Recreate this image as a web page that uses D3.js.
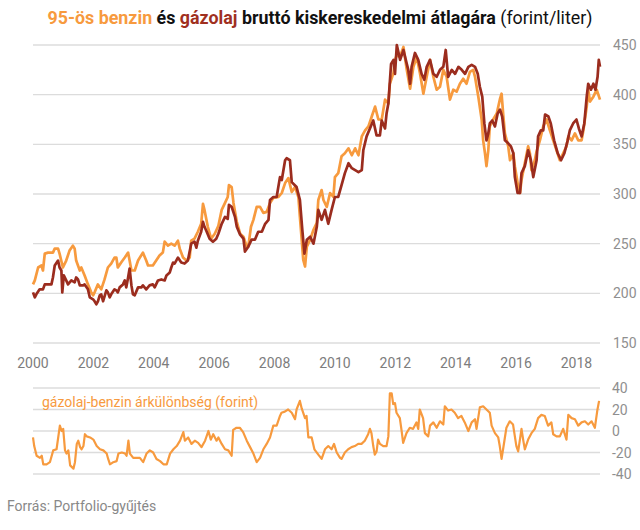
<!DOCTYPE html>
<html>
<head>
<meta charset="utf-8">
<script src="https://cdn.jsdelivr.net/npm/d3@7"></script>
<style>
html,body{margin:0;padding:0;background:#fff;}
svg{display:block;font-family:Roboto,"Noto Sans",sans-serif;}
</style>
</head>
<body>
<svg id="chart" width="640" height="530"></svg>
<script>
// ---- data (year, value) ----
const benzin = [[2000.00,209],[2000.06,213],[2000.17,226],[2000.28,228],[2000.33,223],[2000.39,240],[2000.50,241],[2000.66,241],[2000.72,245],[2000.83,245],[2000.88,240],[2000.99,226],[2001.10,233],[2001.21,243],[2001.32,248],[2001.38,245],[2001.43,233],[2001.55,223],[2001.60,226],[2001.71,218],[2001.82,209],[2001.93,201],[2001.99,198],[2002.04,201],[2002.15,209],[2002.26,204],[2002.37,214],[2002.48,226],[2002.59,230],[2002.70,236],[2002.76,236],[2002.81,226],[2002.92,231],[2003.04,236],[2003.15,241],[2003.20,233],[2003.26,223],[2003.37,223],[2003.48,233],[2003.64,241],[2003.75,233],[2003.81,228],[2003.97,228],[2004.08,233],[2004.19,238],[2004.30,241],[2004.36,252],[2004.47,248],[2004.58,250],[2004.69,248],[2004.80,253],[2004.86,245],[2004.97,236],[2005.08,233],[2005.19,236],[2005.24,253],[2005.35,255],[2005.46,262],[2005.57,270],[2005.63,290],[2005.68,284],[2005.79,267],[2005.90,255],[2006.02,260],[2006.14,268],[2006.25,284],[2006.36,291],[2006.45,297],[2006.49,309],[2006.58,307],[2006.64,291],[2006.75,272],[2006.86,260],[2006.97,257],[2007.08,247],[2007.13,247],[2007.22,267],[2007.30,274],[2007.41,287],[2007.52,287],[2007.63,281],[2007.74,282],[2007.85,291],[2007.96,296],[2008.13,297],[2008.24,301],[2008.35,311],[2008.46,316],[2008.57,302],[2008.68,307],[2008.79,297],[2008.84,277],[2008.90,254],[2008.95,234],[2009.01,227],[2009.07,247],[2009.18,254],[2009.29,264],[2009.40,271],[2009.45,294],[2009.56,304],[2009.62,294],[2009.73,287],[2009.84,301],[2009.95,297],[2010.00,317],[2010.11,321],[2010.22,338],[2010.33,341],[2010.45,346],[2010.56,339],[2010.67,346],[2010.78,339],[2010.89,358],[2011.00,364],[2011.11,368],[2011.22,378],[2011.33,388],[2011.44,375],[2011.55,375],[2011.66,395],[2011.77,391],[2011.82,411],[2011.94,422],[2011.99,435],[2012.05,440],[2012.15,438],[2012.27,448],[2012.38,425],[2012.49,406],[2012.60,428],[2012.71,438],[2012.82,421],[2012.93,401],[2013.04,418],[2013.15,435],[2013.26,418],[2013.37,405],[2013.48,408],[2013.59,425],[2013.70,418],[2013.81,395],[2013.92,405],[2014.03,403],[2014.14,411],[2014.25,416],[2014.36,411],[2014.47,423],[2014.58,425],[2014.64,418],[2014.75,398],[2014.86,375],[2014.91,354],[2014.97,341],[2015.02,328],[2015.08,344],[2015.13,368],[2015.24,375],[2015.36,381],[2015.47,396],[2015.52,401],[2015.58,378],[2015.63,361],[2015.74,348],[2015.80,334],[2015.91,341],[2015.96,328],[2016.02,317],[2016.07,307],[2016.13,301],[2016.18,314],[2016.29,331],[2016.40,348],[2016.46,341],[2016.51,324],[2016.62,334],[2016.68,343],[2016.79,354],[2016.90,368],[2017.01,375],[2017.12,364],[2017.23,354],[2017.34,344],[2017.45,334],[2017.56,341],[2017.67,348],[2017.73,358],[2017.84,354],[2017.95,361],[2018.06,354],[2018.17,354],[2018.23,364],[2018.34,388],[2018.39,405],[2018.45,393],[2018.56,398],[2018.67,405],[2018.78,395]];

const gazolaj = [[2000.00,201],[2000.06,196],[2000.11,199],[2000.22,204],[2000.33,204],[2000.39,209],[2000.61,209],[2000.66,216],[2000.72,228],[2000.83,233],[2000.88,226],[2000.94,223],[2000.97,201],[2001.02,218],[2001.10,213],[2001.16,209],[2001.27,213],[2001.38,211],[2001.43,216],[2001.49,214],[2001.55,208],[2001.66,208],[2001.71,209],[2001.82,204],[2001.88,196],[2001.99,194],[2002.04,192],[2002.10,189],[2002.15,192],[2002.21,198],[2002.26,199],[2002.32,192],[2002.43,203],[2002.48,201],[2002.54,196],[2002.59,199],[2002.70,204],[2002.76,203],[2002.81,201],[2002.87,206],[2002.98,209],[2003.04,213],[2003.09,206],[2003.15,216],[2003.20,225],[2003.26,208],[2003.31,199],[2003.37,198],[2003.48,206],[2003.59,206],[2003.64,208],[2003.75,204],[2003.86,208],[2003.97,209],[2004.03,206],[2004.14,213],[2004.25,214],[2004.36,213],[2004.42,218],[2004.53,221],[2004.58,226],[2004.64,231],[2004.69,230],[2004.80,236],[2004.91,231],[2005.02,230],[2005.13,233],[2005.24,250],[2005.35,252],[2005.41,246],[2005.46,253],[2005.57,262],[2005.63,272],[2005.68,267],[2005.74,263],[2005.85,255],[2005.96,252],[2006.07,255],[2006.14,260],[2006.25,270],[2006.36,277],[2006.45,275],[2006.49,289],[2006.58,287],[2006.69,277],[2006.75,267],[2006.86,259],[2006.97,255],[2007.02,242],[2007.13,247],[2007.24,254],[2007.35,254],[2007.46,262],[2007.58,262],[2007.69,270],[2007.80,274],[2007.85,294],[2007.96,297],[2008.07,297],[2008.18,317],[2008.24,314],[2008.35,334],[2008.40,336],[2008.51,334],[2008.57,312],[2008.73,307],[2008.84,294],[2008.92,264],[2008.99,240],[2009.07,254],[2009.18,257],[2009.29,250],[2009.40,267],[2009.45,284],[2009.56,274],[2009.67,284],[2009.78,270],[2009.89,284],[2010.00,297],[2010.11,297],[2010.22,309],[2010.33,321],[2010.45,331],[2010.56,326],[2010.67,324],[2010.78,322],[2010.89,324],[2010.94,344],[2011.05,358],[2011.16,366],[2011.27,374],[2011.38,359],[2011.49,359],[2011.55,374],[2011.66,366],[2011.71,381],[2011.77,391],[2011.86,431],[2011.94,435],[2011.99,421],[2012.05,450],[2012.16,435],[2012.27,445],[2012.38,431],[2012.43,425],[2012.49,411],[2012.54,428],[2012.65,442],[2012.76,435],[2012.87,421],[2012.96,415],[2013.04,428],[2013.15,435],[2013.26,421],[2013.37,418],[2013.48,425],[2013.59,428],[2013.67,445],[2013.75,418],[2013.87,425],[2013.98,421],[2014.09,428],[2014.20,425],[2014.31,421],[2014.42,428],[2014.53,430],[2014.64,428],[2014.73,421],[2014.80,408],[2014.88,398],[2014.95,371],[2015.02,354],[2015.08,361],[2015.13,371],[2015.21,374],[2015.30,368],[2015.39,381],[2015.47,385],[2015.54,378],[2015.63,354],[2015.74,351],[2015.83,348],[2015.91,341],[2015.96,317],[2016.05,301],[2016.13,301],[2016.18,321],[2016.29,328],[2016.40,344],[2016.49,334],[2016.57,317],[2016.68,334],[2016.73,358],[2016.82,364],[2016.90,364],[2016.96,380],[2017.07,378],[2017.15,371],[2017.26,354],[2017.38,341],[2017.49,334],[2017.60,341],[2017.71,354],[2017.78,364],[2017.89,371],[2018.00,375],[2018.08,366],[2018.17,358],[2018.26,371],[2018.34,398],[2018.39,411],[2018.48,405],[2018.56,411],[2018.63,405],[2018.70,418],[2018.74,435],[2018.78,428]];

const kulonbseg = [[2000.00,-6],[2000.04,-14],[2000.12,-23],[2000.23,-25],[2000.29,-23],[2000.34,-31],[2000.45,-31],[2000.56,-29],[2000.67,-18],[2000.78,-17],[2000.89,5],[2000.95,0],[2001.00,2],[2001.06,-18],[2001.11,-21],[2001.17,-18],[2001.23,-32],[2001.34,-35],[2001.39,-29],[2001.45,-12],[2001.50,-9],[2001.56,-15],[2001.61,-17],[2001.67,-14],[2001.72,-3],[2001.78,-5],[2001.89,-6],[2002.00,-8],[2002.11,-14],[2002.22,-17],[2002.33,-18],[2002.44,-21],[2002.49,-26],[2002.55,-31],[2002.66,-29],[2002.77,-28],[2002.83,-21],[2002.94,-20],[2003.05,-21],[2003.10,-23],[2003.16,-9],[2003.21,-21],[2003.32,-25],[2003.43,-25],[2003.54,-25],[2003.65,-29],[2003.76,-21],[2003.87,-18],[2003.98,-20],[2004.09,-26],[2004.21,-28],[2004.32,-31],[2004.43,-31],[2004.54,-21],[2004.65,-17],[2004.76,-14],[2004.87,-9],[2004.98,-1],[2005.03,-9],[2005.14,-6],[2005.25,-12],[2005.36,-9],[2005.47,-11],[2005.58,-15],[2005.70,-9],[2005.81,0],[2005.89,-8],[2005.97,-3],[2006.08,-9],[2006.14,-6],[2006.25,-12],[2006.36,-17],[2006.47,-18],[2006.58,-23],[2006.63,1],[2006.74,3],[2006.85,3],[2006.96,-1],[2007.08,-9],[2007.19,-15],[2007.30,-21],[2007.41,-29],[2007.52,-25],[2007.63,-17],[2007.74,-12],[2007.85,-6],[2007.96,5],[2008.07,5],[2008.18,14],[2008.23,17],[2008.34,18],[2008.45,20],[2008.57,17],[2008.68,11],[2008.73,20],[2008.84,28],[2008.90,21],[2009.01,12],[2009.06,14],[2009.12,-6],[2009.23,-6],[2009.32,-17],[2009.45,-22],[2009.56,-26],[2009.61,-22],[2009.67,-17],[2009.78,-14],[2009.89,-17],[2009.97,-12],[2010.06,-20],[2010.17,-25],[2010.22,-26],[2010.33,-20],[2010.44,-17],[2010.55,-15],[2010.66,-14],[2010.77,-12],[2010.88,-12],[2010.99,-9],[2011.10,-3],[2011.16,2],[2011.21,-2],[2011.27,-14],[2011.32,-22],[2011.38,-19],[2011.43,-8],[2011.49,-12],[2011.60,-14],[2011.71,-14],[2011.77,-5],[2011.82,35],[2011.88,35],[2011.93,25],[2011.99,26],[2012.04,17],[2012.15,12],[2012.21,0],[2012.26,-11],[2012.37,-2],[2012.48,3],[2012.59,2],[2012.70,8],[2012.76,2],[2012.81,20],[2012.92,12],[2012.98,-2],[2013.09,-5],[2013.15,5],[2013.26,8],[2013.37,3],[2013.48,9],[2013.59,6],[2013.64,23],[2013.75,19],[2013.86,20],[2013.97,17],[2014.08,12],[2014.19,14],[2014.30,8],[2014.42,0],[2014.53,8],[2014.64,11],[2014.69,2],[2014.80,22],[2014.91,23],[2015.02,20],[2015.13,17],[2015.19,5],[2015.30,-2],[2015.41,-6],[2015.46,-14],[2015.52,-26],[2015.57,-17],[2015.68,3],[2015.79,9],[2015.90,6],[2016.01,-14],[2016.07,-19],[2016.18,2],[2016.24,-9],[2016.29,-17],[2016.40,-8],[2016.51,-2],[2016.62,2],[2016.73,12],[2016.84,15],[2016.95,14],[2017.06,5],[2017.17,8],[2017.23,-3],[2017.34,-5],[2017.45,-5],[2017.56,2],[2017.67,-8],[2017.73,15],[2017.84,12],[2017.95,11],[2018.06,5],[2018.17,8],[2018.28,9],[2018.39,6],[2018.50,9],[2018.61,3],[2018.69,19],[2018.75,28]];

const xTicks = [2000,2002,2004,2006,2008,2010,2012,2014,2016,2018];
const yTicksMain = [150,200,250,300,350,400,450];
const yTicksDiff = [-40,-20,0,20,40];

const titleParts = [
  {t:"95-ös benzin", c:"#F79A3E", w:700},
  {t:" és ", c:"#111", w:700},
  {t:"gázolaj", c:"#A0301F", w:700},
  {t:" bruttó kiskereskedelmi átlagára ", c:"#111", w:700},
  {t:"(forint/liter)", c:"#111", w:400}
];
const diffLabel = "gázolaj-benzin árkülönbség (forint)";
const sourceText = "Forrás: Portfolio-gyűjtés";

// ---- layout ----
const svg = d3.select("#chart");
const x = d3.scaleLinear().domain([2000, 2018.78]).range([33, 600]);
const yMain = d3.scaleLinear().domain([150, 450]).range([343, 45]);
const yDiff = d3.scaleLinear().domain([-40, 40]).range([474, 388]);

const gridColor = "#dcdcdc";
const labelColor = "#8f8f8f";
const orange = "#F79A3E";
const darkred = "#9B2C1E";

// main gridlines
const gMain = svg.append("g");
gMain.selectAll("line.grid").data(yTicksMain).join("line")
  .attr("x1", x.range()[0]).attr("x2", x.range()[1])
  .attr("y1", d => yMain(d)).attr("y2", d => yMain(d))
  .attr("stroke", gridColor).attr("stroke-width", 1.3);
gMain.selectAll("text.ylab").data(yTicksMain).join("text")
  .attr("x", 613).attr("y", d => yMain(d) + 5)
  .attr("fill", labelColor).attr("font-size", 14)
  .text(d => d);

// x labels
svg.append("g").selectAll("text").data(xTicks).join("text")
  .attr("x", d => x(d)).attr("y", 368)
  .attr("text-anchor", "middle")
  .attr("fill", "#7d7d7d").attr("font-size", 14)
  .text(d => d);

// lines
const lineMain = d3.line().x(d => x(d[0])).y(d => yMain(d[1]));
svg.append("path").datum(benzin)
  .attr("d", lineMain).attr("fill", "none")
  .attr("stroke", orange).attr("stroke-width", 2.7).attr("stroke-linejoin", "round");
svg.append("path").datum(gazolaj)
  .attr("d", lineMain).attr("fill", "none")
  .attr("stroke", darkred).attr("stroke-width", 2.7).attr("stroke-linejoin", "round");

// diff panel
const gDiff = svg.append("g");
gDiff.selectAll("line").data(yTicksDiff).join("line")
  .attr("x1", x.range()[0]).attr("x2", x.range()[1])
  .attr("y1", d => yDiff(d)).attr("y2", d => yDiff(d))
  .attr("stroke", gridColor).attr("stroke-width", 1.3);
gDiff.selectAll("text").data(yTicksDiff).join("text")
  .attr("x", 612).attr("y", d => yDiff(d) + 5)
  .attr("fill", labelColor).attr("font-size", 14)
  .text(d => d);

const lineDiff = d3.line().x(d => x(d[0])).y(d => yDiff(d[1]));
svg.append("path").datum(kulonbseg)
  .attr("d", lineDiff).attr("fill", "none")
  .attr("stroke", orange).attr("stroke-width", 2.2).attr("stroke-linejoin", "round");

svg.append("text").attr("x", 42).attr("y", 407)
  .attr("fill", orange).attr("font-size", 14)
  .text(diffLabel);

// title
const title = svg.append("text").attr("x", 320).attr("y", 24)
  .attr("text-anchor", "middle").attr("font-size", 18);
title.selectAll("tspan").data(titleParts).join("tspan")
  .attr("fill", d => d.c).attr("font-weight", d => d.w)
  .text(d => d.t);
const tl = title.node().getComputedTextLength();
if (tl > 545) title.attr("textLength", 545).attr("lengthAdjust", "spacingAndGlyphs");

// source
svg.append("text").attr("x", 7).attr("y", 511)
  .attr("fill", "#888").attr("font-size", 14)
  .text(sourceText);
</script>
</body>
</html>
